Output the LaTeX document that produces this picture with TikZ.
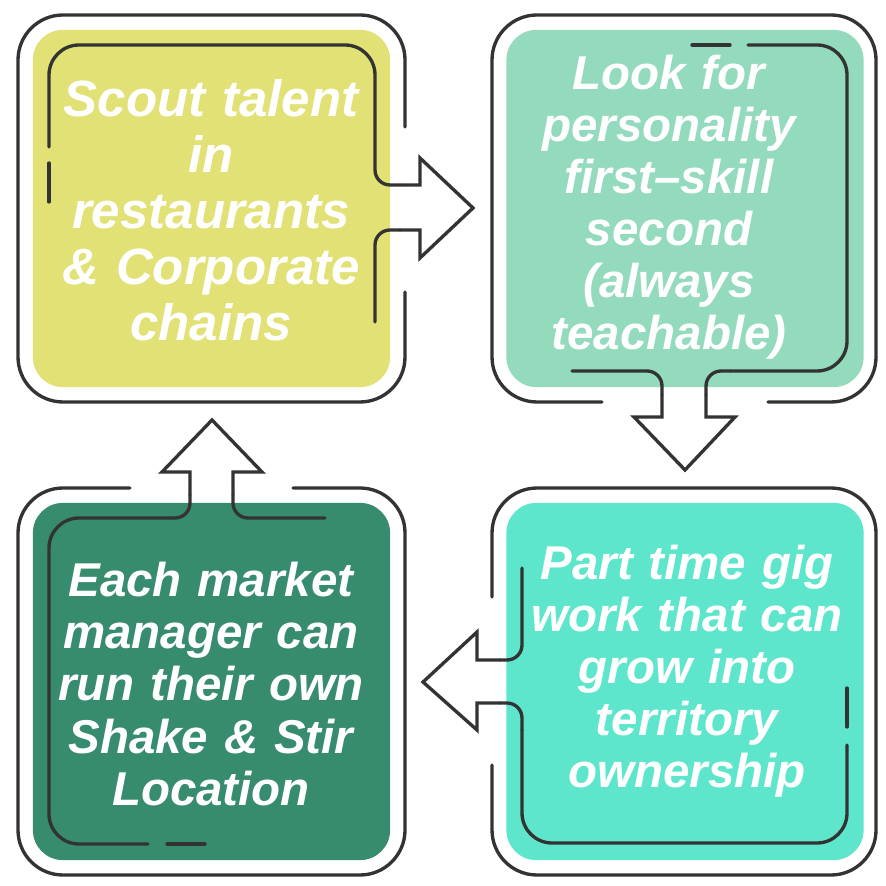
\documentclass[tikz,border=0pt]{standalone}
\usepackage{fontspec}
\setmainfont{Liberation Sans}
\usepackage{tikz}
\definecolor{scoutyellow}{HTML}{E1E176}
\definecolor{lookmint}{HTML}{94DBBE}
\definecolor{ownergreen}{HTML}{378C6E}
\definecolor{gigaqua}{HTML}{5DE6CB}
\definecolor{linegray}{HTML}{333333}

\begin{document}
\begin{tikzpicture}[x=0.01cm, y=-0.01cm,
    stepbox/.style={rounded corners=0.3cm, minimum width=3.57cm, minimum height=3.57cm,
        inner sep=0pt},
    steptext/.style={inner sep=0pt, text width=3.5cm, align=center, text=white,
        font=\fontsize{13.5}{14.8}\selectfont\bfseries\itshape},
    rim/.style={draw=linegray, line width=0.95pt, line cap=round, rounded corners=0.45cm},
    trace/.style={draw=linegray, line width=0.95pt, line cap=round}]
    \useasboundingbox (0,0) rectangle (885,886);
    \fill[white] (0,0) rectangle (885,886);

    % the four steps
    \node[stepbox, fill=scoutyellow] (scout) at (211.5,208.5) {};
    \node[stepbox, fill=lookmint] (look) at (685,208.5) {};
    \node[stepbox, fill=gigaqua] (gig) at (685,681.5) {};
    \node[stepbox, fill=ownergreen] (owner) at (211.5,681.5) {};

    \node[steptext, font=\fontsize{14.5}{15.9}\selectfont\bfseries\itshape]
        (scouttext) at (211,210.5) {Scout talent\\in\\restaurants\\\& Corporate\\chains};
    \node[steptext] (looktext) at (669,207)
        {Look for\\personality\\first–skill\\second\\(always\\teachable)};
    \node[steptext] (gigtext) at (687,671.5)
        {Part time gig\\work that can\\grow into\\territory\\ownership};
    \node[steptext] (ownertext) at (211,684)
        {Each market\\manager can\\run their own\\Shake \& Stir\\Location};

    % outer rims, open where the arrows pass
    \draw[rim] (405,292) -- (405,402) -- (18,402) -- (18,15) -- (405,15) -- (405,127);
    \draw[rim] (602,402) -- (492,402) -- (492,15) -- (876,15) -- (876,402) -- (768,402);
    \draw[rim] (492,765) -- (492,875) -- (876,875) -- (876,488) -- (492,488) -- (492,597);
    \draw[rim] (293,488) -- (405,488) -- (405,875) -- (18,875) -- (18,488) -- (130,488);

    % scout -> look
    \draw[trace, rounded corners=0.3cm] (49,147) -- (49,45) -- (375,45) -- (375,120);
    \draw[trace, rounded corners=0.15cm] (375,120) -- (375,185) -- (400,185);
    \draw[trace] (400,185) -- (420,185) -- (420,158) -- (473,208) -- (420,258) -- (420,230) -- (400,230);
    \draw[trace, rounded corners=0.15cm] (400,230) -- (375,230) -- (375,322);

    % look -> gig
    \draw[trace, rounded corners=0.3cm] (748,45) -- (847,45) -- (847,371) -- (730,371);
    \draw[trace, rounded corners=0.15cm] (730,371) -- (706,371) -- (706,395);
    \draw[trace] (706,395) -- (706,417) -- (735,417) -- (685,470) -- (634,417) -- (662,417) -- (662,395);
    \draw[trace, rounded corners=0.15cm] (662,395) -- (662,371) -- (572,371);

    % gig -> owner
    \draw[trace, rounded corners=0.3cm] (847,745) -- (847,843) -- (522,843) -- (522,730);
    \draw[trace, rounded corners=0.15cm] (522,730) -- (522,703) -- (500,703);
    \draw[trace] (500,703) -- (477,703) -- (477,730) -- (423,682) -- (477,632) -- (477,660) -- (500,660);
    \draw[trace, rounded corners=0.15cm] (500,660) -- (522,660) -- (522,568);

    % owner -> scout
    \draw[trace, rounded corners=0.3cm] (148,844) -- (49,844) -- (49,518) -- (170,518);
    \draw[trace, rounded corners=0.15cm] (170,518) -- (190,518) -- (190,495);
    \draw[trace] (190,495) -- (190,472) -- (162,472) -- (212,420) -- (262,472) -- (233,472) -- (233,495);
    \draw[trace, rounded corners=0.15cm] (233,495) -- (233,518) -- (325,518);

    % short dashes
    \foreach \xa/\ya/\xb/\yb in {49/163/49/202, 692/45/730/45, 847/688/847/727, 167/844/205/844}
        \draw[trace] (\xa,\ya) -- (\xb,\yb);
\end{tikzpicture}
\end{document}
